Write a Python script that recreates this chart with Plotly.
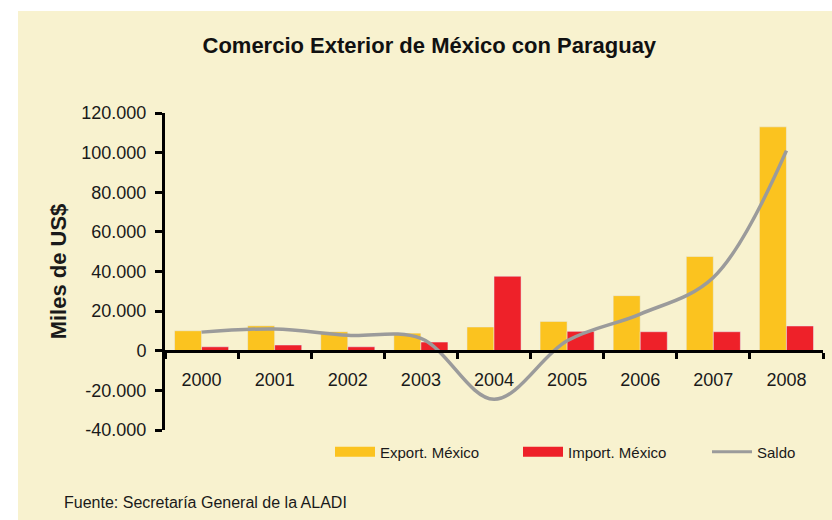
import plotly.graph_objects as go

years = ["2000", "2001", "2002", "2003", "2004", "2005", "2006", "2007", "2008"]
export_mx = [10100, 12600, 9600, 8900, 12000, 14800, 27800, 47600, 113000]
import_mx = [2000, 2900, 2000, 4400, 37600, 9800, 9600, 9600, 12500]
saldo = [9400, 11000, 7800, 6200, -24500, 5000, 18500, 37000, 101000]

y_tickvals = [-40000, -20000, 0, 20000, 40000, 60000, 80000, 100000, 120000]
y_ticktext = ["-40.000", "-20.000", "0", "20.000", "40.000", "60.000", "80.000", "100.000", "120.000"]

YELLOW = "#fbc31f"
RED = "#ee2129"
GRAY = "#9b9b9b"
CREAM = "#f8f2cf"
FONT = "Liberation Sans, Arial, sans-serif"

W, H = 832, 520
L, R, T, B = 165, 9, 113, 90
pw, ph = W - L - R, H - T - B

def px_x(p):
    return (p - L) / pw

def px_y(p):
    return (H - B - p) / ph

fig = go.Figure()
fig.add_trace(go.Bar(x=years, y=export_mx, marker_color=YELLOW, name="Export. México",
                     showlegend=False, legendgroup="e"))
fig.add_trace(go.Bar(x=years, y=import_mx, marker_color=RED, name="Import. México",
                     showlegend=False, legendgroup="i"))
fig.add_trace(go.Scatter(x=years, y=saldo, mode="lines", name="Saldo",
                         line=dict(color=GRAY, width=3.5, shape="spline", smoothing=1.0),
                         showlegend=False, legendgroup="s"))
# legend entries (wide swatches), one legend each for exact placement
fig.add_trace(go.Scatter(x=[None], y=[None], mode="lines", name="Export. México",
                         line=dict(color=YELLOW, width=10), legendgroup="e", legend="legend"))
fig.add_trace(go.Scatter(x=[None], y=[None], mode="lines", name="Import. México",
                         line=dict(color=RED, width=10), legendgroup="i", legend="legend2"))
fig.add_trace(go.Scatter(x=[None], y=[None], mode="lines", name="Saldo",
                         line=dict(color=GRAY, width=3), legendgroup="s", legend="legend3"))

def leg(xpx):
    return dict(orientation="h", x=px_x(xpx), xanchor="left", y=px_y(452), yanchor="middle",
                bgcolor="rgba(0,0,0,0)", itemwidth=40,
                font=dict(size=15, family=FONT, color="#1a1a1a"))

fig.update_layout(
    width=W, height=H,
    margin=dict(l=L, r=R, t=T, b=B, pad=0),
    paper_bgcolor="white",
    plot_bgcolor="rgba(0,0,0,0)",
    font=dict(family=FONT, color="#1a1a1a"),
    barmode="group",
    bargap=0.26,
    bargroupgap=0.0,
    title=dict(text="<b>Comercio Exterior de México con Paraguay</b>",
               x=0.516, xanchor="center", y=1 - 45 / H, yanchor="middle",
               font=dict(size=22, color="#111111", family=FONT)),
    xaxis=dict(type="category", range=[-0.5, 8.5], anchor="free", position=0.25,
               showline=True, linecolor="black", linewidth=3,
               ticks="outside", ticklen=6, tickwidth=2.5, tickcolor="black",
               tickson="boundaries", showgrid=False, zeroline=False,
               ticklabelstandoff=12,
               tickfont=dict(size=18, family=FONT, color="#1a1a1a")),
    xaxis2=dict(range=[-0.5, 8.5], overlaying="x", anchor="free", position=0.25,
                showline=False, ticks="inside", ticklen=8, tickwidth=2.5, tickcolor="black",
                tick0=0.5, dtick=1, showticklabels=False, showgrid=False, zeroline=False),
    yaxis=dict(range=[-40000, 120000], showline=True, linecolor="black", linewidth=3,
               ticks="outside", ticklen=7, tickwidth=2.5, tickcolor="black",
               tickvals=y_tickvals, ticktext=y_ticktext, showgrid=False, zeroline=False,
               ticklabelstandoff=5,
               tickfont=dict(size=18, family=FONT, color="#1a1a1a"),
               title=dict(text="<b>Miles de US$</b>", standoff=9,
                          font=dict(size=22, family=FONT, color="#1a1a1a"))),
    yaxis2=dict(range=[-40000, 120000], overlaying="y", side="left", anchor="x",
                ticks="inside", ticklen=7, tickwidth=2.5, tickcolor="black",
                tickvals=y_tickvals, showticklabels=False, showgrid=False,
                zeroline=False, showline=False),
    legend=leg(330),
    legend2=leg(518),
    legend3=leg(707),
    shapes=[dict(type="rect", xref="paper", yref="paper", layer="below",
                 x0=px_x(18), x1=px_x(834), y0=px_y(522), y1=px_y(11),
                 fillcolor=CREAM, line=dict(width=0))],
    annotations=[dict(text="Fuente: Secretaría General de la ALADI", xref="paper", yref="paper",
                      x=px_x(62), y=px_y(503), xanchor="left", yanchor="middle",
                      showarrow=False, font=dict(size=16, family=FONT, color="#1a1a1a"))],
)

fig.write_html("out.html", config={"displayModeBar": False},
               post_script="document.body.style.margin='0px';document.body.style.overflow='hidden';")
